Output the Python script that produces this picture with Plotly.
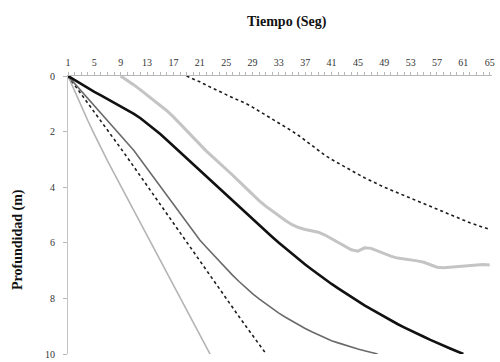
import plotly.graph_objects as go

# Time in seconds (category axis 1..65)
tiempo = list(range(1, 66))
x_ticks = [1, 5, 9, 13, 17, 21, 25, 29, 33, 37, 41, 45, 49, 53, 57, 61, 65]
y_ticks = [0, 2, 4, 6, 8, 10]

# Depth series (m), each with the second at which it starts
serie_a_inicio = 1
serie_a = [0, 0.55, 1.05, 1.6, 2.1, 2.6, 3.05, 3.5, 3.95, 4.4, 4.85, 5.3, 5.75,
           6.2, 6.65, 7.1, 7.55, 8.0, 8.45, 8.9, 9.35, 9.8, 10.2]

serie_b_inicio = 1
serie_b = [0, 0.32, 0.65, 0.97, 1.3, 1.62, 1.95, 2.27, 2.6, 2.93, 3.27, 3.6, 3.94,
           4.27, 4.61, 4.95, 5.29, 5.63, 5.97, 6.3, 6.64, 6.98, 7.32, 7.66, 7.99,
           8.33, 8.67, 9.0, 9.34, 9.68, 10.0, 10.3]

serie_c_inicio = 1
serie_c = [0, 0.27, 0.54, 0.8, 1.07, 1.34, 1.6, 1.87, 2.14, 2.4, 2.68, 3.0, 3.32,
           3.64, 3.96, 4.28, 4.6, 4.93, 5.26, 5.58, 5.9, 6.16, 6.42, 6.68, 6.93,
           7.17, 7.4, 7.62, 7.83, 8.02, 8.2, 8.37, 8.53, 8.68, 8.82, 8.95, 9.08,
           9.2, 9.31, 9.42, 9.52, 9.6, 9.68, 9.75, 9.82, 9.88, 9.94, 10.0]

serie_d_inicio = 1
serie_d = [0, 0.15, 0.29, 0.43, 0.57, 0.7, 0.83, 0.96, 1.09, 1.22, 1.36, 1.52, 1.7,
           1.89, 2.09, 2.3, 2.52, 2.74, 2.96, 3.18, 3.4, 3.62, 3.84, 4.06, 4.28,
           4.5, 4.72, 4.94, 5.16, 5.37, 5.58, 5.79, 6.0, 6.2, 6.4, 6.59, 6.78,
           6.96, 7.14, 7.31, 7.48, 7.64, 7.8, 7.96, 8.11, 8.25, 8.39, 8.53, 8.66,
           8.79, 8.92, 9.04, 9.16, 9.27, 9.38, 9.49, 9.6, 9.7, 9.8, 9.9, 10.0]

serie_e_inicio = 9
serie_e = [0, 0.15, 0.32, 0.5, 0.68, 0.86, 1.05, 1.25, 1.47, 1.72, 1.97, 2.22, 2.48,
           2.7, 2.92, 3.13, 3.35, 3.57, 3.8, 4.03, 4.26, 4.48, 4.68, 4.86, 5.03,
           5.2, 5.35, 5.45, 5.52, 5.57, 5.62, 5.72, 5.85, 5.98, 6.12, 6.25, 6.3,
           6.18, 6.2, 6.3, 6.4, 6.48, 6.55, 6.58, 6.6, 6.65, 6.7, 6.78, 6.88, 6.9,
           6.88, 6.85, 6.83, 6.8, 6.78, 6.78, 6.8]

serie_f_inicio = 19
serie_f = [0, 0.1, 0.21, 0.33, 0.45, 0.56, 0.67, 0.78, 0.88, 0.99, 1.12, 1.26, 1.4,
           1.55, 1.7, 1.84, 1.98, 2.14, 2.32, 2.5, 2.68, 2.85, 3.0, 3.14, 3.27,
           3.4, 3.53, 3.66, 3.78, 3.89, 4.0, 4.1, 4.2, 4.3, 4.4, 4.5, 4.6, 4.7,
           4.8, 4.9, 5.0, 5.1, 5.2, 5.28, 5.36, 5.44, 5.52]

series = [
    (serie_a_inicio, serie_a, dict(color="#b4b4b4", width=1.6, dash="solid")),
    (serie_b_inicio, serie_b, dict(color="#1e1e1e", width=1.6, dash="dot")),
    (serie_c_inicio, serie_c, dict(color="#6a6a6a", width=1.6, dash="solid")),
    (serie_d_inicio, serie_d, dict(color="#111111", width=2.6, dash="solid")),
    (serie_e_inicio, serie_e, dict(color="#c4c4c4", width=3.0, dash="solid")),
    (serie_f_inicio, serie_f, dict(color="#1e1e1e", width=1.6, dash="dot")),
]

fig = go.Figure()
for inicio, vals, line in series:
    xs = tiempo[inicio - 1: inicio - 1 + len(vals)]
    fig.add_trace(go.Scatter(x=xs, y=vals, mode="lines", line=line,
                             showlegend=False, hoverinfo="skip"))

serif = "Liberation Serif, Times New Roman, serif"

fig.update_layout(
    width=500, height=362,
    margin=dict(l=68, r=8, t=76, b=8, autoexpand=False),
    paper_bgcolor="white", plot_bgcolor="white",
    font=dict(family=serif, size=10, color="#333333"),
    xaxis=dict(
        side="top", range=[1, 65.35], tickmode="array", tickvals=x_ticks,
        ticktext=[str(v) for v in x_ticks],
        showgrid=False, zeroline=False, showline=True, linecolor="#b8b8b8",
        linewidth=1, ticks="outside", ticklen=3, tickcolor="#b8b8b8",
        minor=dict(dtick=1, tick0=1, ticks="outside", ticklen=3, tickcolor="#b8b8b8"),
        tickfont=dict(family=serif, size=10, color="#333333"),
        ticklabelstandoff=2, ticklabeloverflow="allow", automargin=False,
    ),
    yaxis=dict(
        range=[10, 0], tickmode="array", tickvals=y_ticks,
        ticktext=[str(v) for v in y_ticks],
        showgrid=False, zeroline=False, showline=True, linecolor="#c4c4c4",
        linewidth=1, ticks="outside", ticklen=4, tickcolor="#b8b8b8",
        tickfont=dict(family=serif, size=10, color="#333333"),
        ticklabelstandoff=6, ticklabeloverflow="allow", automargin=False,
    ),
    annotations=[
        dict(text="<b>Tiempo (Seg)</b>", xref="paper", yref="paper",
             x=(287 - 68) / 424, y=1 + (76 - 22) / 278, showarrow=False,
             xanchor="center", yanchor="middle",
             font=dict(family=serif, size=14, color="#111111")),
        dict(text="<b>Profundidad (m)</b>", xref="paper", yref="paper",
             x=(18 - 68) / 424, y=(354 - 240) / 278, showarrow=False,
             textangle=-90, xanchor="center", yanchor="middle",
             font=dict(family=serif, size=14, color="#111111")),
    ],
)

fig.write_html("out.html", config={"displayModeBar": False},
               post_script="document.body.style.margin='0';document.body.style.padding='0';")
